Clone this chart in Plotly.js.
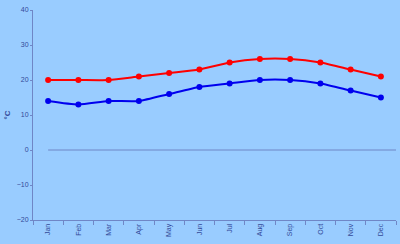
<!DOCTYPE html>
<html><head><meta charset="utf-8">
<script src="https://cdn.plot.ly/plotly-3.0.1.min.js"></script>
<style>html,body{margin:0;padding:0;background:#99CCFF;}#c{width:400px;height:244px;}</style>
</head><body><div id="c"></div>
<script>
var months = ['Jan','Feb','Mar','Apr','May','Jun','Jul','Aug','Sep','Oct','Nov','Dec'];
var highTemp = [20,20,20,21,22,23,25,26,26,25,23,21];
var lowTemp = [14,13,14,14,16,18,19,20,20,19,17,15];
var yTicks = [-20,-10,0,10,20,30,40];

var axisColor = '#6f86c6';
var textColor = '#334a99';
var traces = [
  {x: months, y: highTemp, type:'scatter', mode:'lines+markers', line:{color:'#ff0000', width:2, shape:'spline', smoothing:0.6}, marker:{color:'#ff0000', size:6}},
  {x: months, y: lowTemp, type:'scatter', mode:'lines+markers', line:{color:'#0000ee', width:2, shape:'spline', smoothing:0.6}, marker:{color:'#0000ee', size:6}}
];
var layout = {
  width:400, height:244,
  margin:{l:33, r:4, t:10, b:24, pad:0},
  paper_bgcolor:'#99CCFF', plot_bgcolor:'#99CCFF',
  showlegend:false,
  font:{family:'Liberation Sans, Arial, sans-serif', size:7, color:textColor},
  xaxis:{type:'category', range:[-0.5,11.5], showgrid:false, zeroline:false, showline:true, linecolor:axisColor, linewidth:1,
    ticks:'outside', ticklen:4, tickcolor:axisColor, tickson:'boundaries', tickangle:-90, tickfont:{size:7, color:textColor}, fixedrange:true},
  yaxis:{range:[-20,40], tickvals:yTicks, showgrid:false, zeroline:false, showline:true, linecolor:axisColor, linewidth:1,
    ticks:'outside', ticklen:2, tickcolor:axisColor, tickfont:{size:7, color:textColor},
    title:{text:'<b>°C</b>', font:{size:8, color:textColor}, standoff:4}, fixedrange:true},
  shapes:[{type:'line', xref:'x', yref:'y', x0:0, x1:11.5, y0:0, y1:0, line:{color:axisColor, width:1}}]
};
Plotly.newPlot('c', traces, layout, {displayModeBar:false, staticPlot:true});
</script></body></html>
